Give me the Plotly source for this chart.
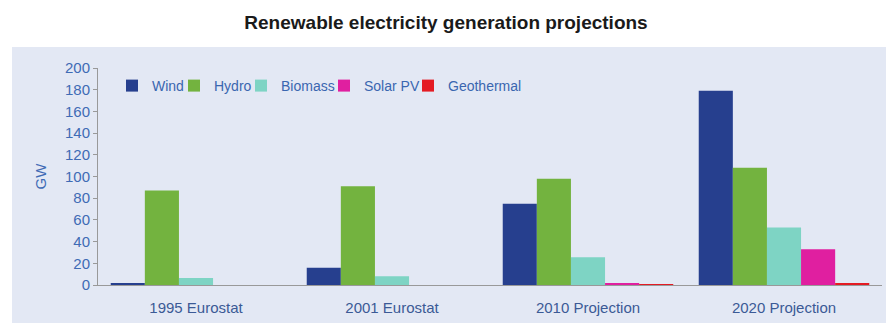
import plotly.graph_objects as go

categories = ["1995 Eurostat", "2001 Eurostat", "2010 Projection", "2020 Projection"]
series_names = ["Wind", "Hydro", "Biomass", "Solar PV", "Geothermal"]
wind = [1.5, 16, 75, 179]
hydro = [87, 91, 98, 108]
biomass = [6.5, 8, 25.5, 53]
solar_pv = [0, 0, 1, 33]
geothermal = [0, 0, 0.8, 1.5]
y_ticks = [0, 20, 40, 60, 80, 100, 120, 140, 160, 180, 200]

colors = ["#263F8E", "#73B33F", "#7ED4C4", "#E01FA0", "#E41B23"]
values = [wind, hydro, biomass, solar_pv, geothermal]
legend_ids = ["legend", "legend2", "legend3", "legend4", "legend5"]
legend_left_px = [112, 174, 241, 324, 408]

W, H = 887, 324
ml, mr, mt, mb = 98, 5, 68, 39


def px_x(p):
    return (p - ml) / (W - ml - mr)


def px_y(p):
    return (H - mb - p) / (H - mt - mb)


fig = go.Figure()
for name, vals, col, lid in zip(series_names, values, colors, legend_ids):
    fig.add_trace(go.Bar(x=categories, y=vals, name=name, legend=lid,
                         marker=dict(color=col, line=dict(width=0))))

legend_font = dict(family="Liberation Sans, Arial, sans-serif", size=14, color="#3A66B0")
legend_layout = {}
for lid, left in zip(legend_ids, legend_left_px):
    legend_layout[lid] = dict(
        orientation="h", x=px_x(left), xanchor="left",
        y=px_y(86), yanchor="middle",
        bgcolor="rgba(0,0,0,0)", borderwidth=0, font=legend_font,
    )

fig.update_layout(
    width=W, height=H,
    margin=dict(l=ml, r=mr, t=mt, b=mb),
    paper_bgcolor="white",
    plot_bgcolor="rgba(0,0,0,0)",
    barmode="group",
    bargap=0.13,
    bargroupgap=0,
    font=dict(family="Liberation Sans, Arial, sans-serif", size=15, color="#3B62A8"),
    title=dict(
        text="<b>Renewable electricity generation projections</b>",
        x=446 / W, xref="container", xanchor="center",
        y=1 - 22 / H, yref="container", yanchor="middle",
        font=dict(family="Liberation Sans, Arial, sans-serif", size=19, color="#1A1A1A"),
    ),
    showlegend=True,
    shapes=[dict(
        type="rect", xref="paper", yref="paper",
        x0=px_x(12), x1=px_x(886), y0=px_y(323), y1=px_y(47),
        fillcolor="#E3E8F4", line=dict(width=0), layer="below",
    )],
    **legend_layout,
)

fig.update_xaxes(
    showline=True, linecolor="#999999", linewidth=1,
    showgrid=False, ticks="outside", ticklen=9, tickcolor="rgba(0,0,0,0)",
    tickfont=dict(size=15, color="#3B5A96"),
    zeroline=False,
)
fig.update_yaxes(
    range=[0, 200], tickvals=y_ticks,
    showline=True, linecolor="#999999", linewidth=1,
    ticks="outside", ticklen=4, tickcolor="#999999",
    showgrid=False, zeroline=False,
    tickfont=dict(size=15, color="#3F6BB5"),
    title=dict(text="GW", font=dict(size=15, color="#3F6BB5"), standoff=14),
)

fig.write_html("out.html", config={"displayModeBar": False},
               post_script="document.body.style.margin='0';")
